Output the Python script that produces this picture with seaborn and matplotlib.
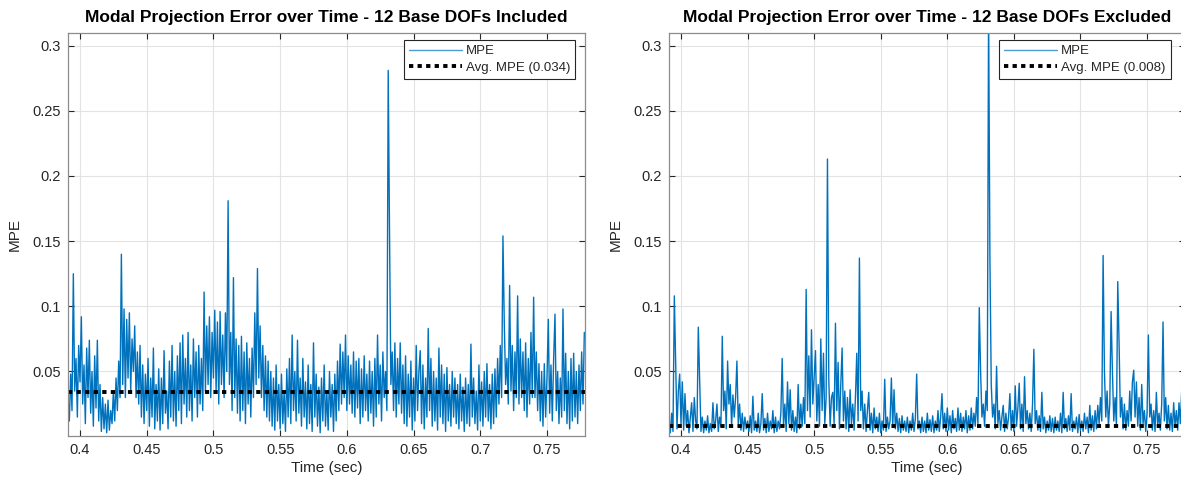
import numpy as np
import matplotlib
matplotlib.use("Agg")
import matplotlib.pyplot as plt
import seaborn as sns

# ---------------------------------------------------------------------------
# data (read off the reference, sampled every 1 ms from t = 0.391 s)
# ---------------------------------------------------------------------------
t_start = 0.391
dt = 0.001

mpe_included = [
    0.030, 0.012, 0.048, 0.020, 0.125, 0.035, 0.060, 0.015, 0.070, 0.042,
    0.092, 0.025, 0.055, 0.010, 0.068, 0.030, 0.074, 0.018, 0.050, 0.008,
    0.062, 0.022, 0.074, 0.012, 0.040, 0.004, 0.030, 0.006, 0.025, 0.003,
    0.028, 0.005, 0.020, 0.010, 0.035, 0.012, 0.045, 0.020, 0.058, 0.030,
    0.140, 0.040, 0.098, 0.030, 0.090, 0.045, 0.095, 0.035, 0.075, 0.050,
    0.085, 0.030, 0.065, 0.025, 0.070, 0.015, 0.055, 0.010, 0.048, 0.020,
    0.060, 0.008, 0.045, 0.015, 0.068, 0.006, 0.040, 0.012, 0.052, 0.005,
    0.045, 0.010, 0.066, 0.018, 0.035, 0.006, 0.058, 0.015, 0.070, 0.012,
    0.050, 0.008, 0.062, 0.020, 0.072, 0.010, 0.078, 0.025, 0.060, 0.015,
    0.080, 0.020, 0.055, 0.012, 0.075, 0.030, 0.065, 0.015, 0.070, 0.025,
    0.060, 0.020, 0.111, 0.035, 0.085, 0.040, 0.092, 0.030, 0.080, 0.045,
    0.097, 0.035, 0.088, 0.025, 0.096, 0.040, 0.078, 0.030, 0.095, 0.050,
    0.181, 0.040, 0.080, 0.020, 0.122, 0.030, 0.075, 0.018, 0.070, 0.012,
    0.077, 0.020, 0.065, 0.010, 0.072, 0.025, 0.060, 0.015, 0.068, 0.030,
    0.095, 0.040, 0.129, 0.045, 0.085, 0.030, 0.070, 0.020, 0.062, 0.015,
    0.058, 0.012, 0.050, 0.008, 0.045, 0.005, 0.055, 0.012, 0.040, 0.006,
    0.048, 0.010, 0.035, 0.004, 0.052, 0.015, 0.060, 0.010, 0.078, 0.020,
    0.050, 0.012, 0.074, 0.018, 0.045, 0.008, 0.060, 0.015, 0.042, 0.006,
    0.055, 0.010, 0.040, 0.004, 0.072, 0.015, 0.048, 0.008, 0.038, 0.003,
    0.045, 0.012, 0.055, 0.008, 0.035, 0.005, 0.050, 0.015, 0.040, 0.004,
    0.048, 0.012, 0.058, 0.020, 0.071, 0.025, 0.065, 0.030, 0.078, 0.020,
    0.062, 0.025, 0.055, 0.018, 0.065, 0.015, 0.058, 0.022, 0.060, 0.010,
    0.052, 0.015, 0.062, 0.020, 0.048, 0.012, 0.058, 0.018, 0.050, 0.008,
    0.060, 0.015, 0.078, 0.025, 0.055, 0.012, 0.065, 0.030, 0.050, 0.020,
    0.281, 0.155, 0.040, 0.065, 0.020, 0.072, 0.015, 0.060, 0.025, 0.072,
    0.018, 0.055, 0.010, 0.062, 0.008, 0.048, 0.015, 0.058, 0.005, 0.045,
    0.012, 0.070, 0.020, 0.050, 0.066, 0.010, 0.055, 0.006, 0.045, 0.015,
    0.083, 0.020, 0.060, 0.008, 0.050, 0.012, 0.045, 0.005, 0.068, 0.015,
    0.055, 0.010, 0.048, 0.004, 0.053, 0.012, 0.040, 0.008, 0.050, 0.015,
    0.045, 0.010, 0.040, 0.006, 0.048, 0.012, 0.038, 0.004, 0.045, 0.010,
    0.040, 0.008, 0.071, 0.015, 0.045, 0.010, 0.035, 0.005, 0.055, 0.012,
    0.042, 0.008, 0.050, 0.015, 0.056, 0.012, 0.040, 0.006, 0.048, 0.010,
    0.052, 0.015, 0.060, 0.025, 0.070, 0.030, 0.154, 0.087, 0.040, 0.060,
    0.025, 0.116, 0.035, 0.070, 0.020, 0.065, 0.030, 0.108, 0.025, 0.075,
    0.030, 0.065, 0.020, 0.072, 0.015, 0.060, 0.025, 0.080, 0.030, 0.107,
    0.030, 0.065, 0.020, 0.056, 0.012, 0.050, 0.008, 0.056, 0.015, 0.045,
    0.090, 0.018, 0.055, 0.012, 0.060, 0.094, 0.020, 0.050, 0.010, 0.045,
    0.015, 0.098, 0.020, 0.064, 0.010, 0.050, 0.006, 0.060, 0.012, 0.064,
    0.015, 0.050, 0.010, 0.055, 0.020, 0.065, 0.025, 0.080,
]

mpe_excluded = [
    0.012, 0.003, 0.018, 0.004, 0.108, 0.058, 0.006, 0.035, 0.048, 0.010,
    0.042, 0.005, 0.033, 0.008, 0.020, 0.003, 0.015, 0.026, 0.004, 0.030,
    0.012, 0.006, 0.084, 0.044, 0.004, 0.015, 0.003, 0.012, 0.005, 0.016,
    0.003, 0.010, 0.004, 0.026, 0.006, 0.012, 0.025, 0.004, 0.015, 0.008,
    0.077, 0.020, 0.035, 0.006, 0.058, 0.025, 0.040, 0.008, 0.032, 0.015,
    0.030, 0.058, 0.010, 0.025, 0.005, 0.018, 0.004, 0.015, 0.006, 0.012,
    0.004, 0.016, 0.003, 0.031, 0.005, 0.012, 0.004, 0.018, 0.003, 0.010,
    0.033, 0.005, 0.014, 0.003, 0.018, 0.004, 0.012, 0.006, 0.020, 0.003,
    0.015, 0.004, 0.012, 0.006, 0.018, 0.060, 0.008, 0.025, 0.004, 0.042,
    0.010, 0.036, 0.005, 0.020, 0.004, 0.015, 0.003, 0.040, 0.006, 0.025,
    0.008, 0.030, 0.010, 0.113, 0.020, 0.062, 0.015, 0.082, 0.025, 0.045,
    0.066, 0.012, 0.040, 0.008, 0.075, 0.020, 0.064, 0.010, 0.030, 0.213,
    0.044, 0.008, 0.030, 0.034, 0.010, 0.087, 0.020, 0.057, 0.006, 0.040,
    0.068, 0.012, 0.035, 0.006, 0.030, 0.004, 0.036, 0.010, 0.025, 0.005,
    0.030, 0.064, 0.012, 0.137, 0.020, 0.035, 0.006, 0.025, 0.004, 0.020,
    0.034, 0.005, 0.018, 0.003, 0.022, 0.006, 0.015, 0.004, 0.018, 0.003,
    0.012, 0.005, 0.044, 0.004, 0.015, 0.006, 0.012, 0.045, 0.008, 0.036,
    0.006, 0.018, 0.004, 0.014, 0.003, 0.016, 0.005, 0.012, 0.004, 0.015,
    0.003, 0.012, 0.005, 0.018, 0.004, 0.014, 0.048, 0.006, 0.012, 0.003,
    0.015, 0.004, 0.012, 0.003, 0.018, 0.005, 0.013, 0.004, 0.016, 0.003,
    0.012, 0.005, 0.020, 0.004, 0.015, 0.033, 0.006, 0.018, 0.004, 0.022,
    0.005, 0.016, 0.003, 0.020, 0.006, 0.014, 0.004, 0.022, 0.005, 0.018,
    0.004, 0.015, 0.006, 0.020, 0.003, 0.016, 0.005, 0.022, 0.006, 0.018,
    0.008, 0.030, 0.010, 0.099, 0.050, 0.015, 0.025, 0.008, 0.035, 0.020,
    0.330, 0.136, 0.040, 0.015, 0.025, 0.006, 0.054, 0.010, 0.020, 0.005,
    0.015, 0.024, 0.004, 0.018, 0.006, 0.015, 0.033, 0.005, 0.020, 0.004,
    0.039, 0.008, 0.022, 0.041, 0.006, 0.025, 0.004, 0.046, 0.010, 0.020,
    0.006, 0.018, 0.004, 0.025, 0.067, 0.010, 0.020, 0.005, 0.016, 0.004,
    0.034, 0.006, 0.015, 0.003, 0.012, 0.005, 0.016, 0.004, 0.014, 0.003,
    0.015, 0.005, 0.012, 0.004, 0.018, 0.003, 0.034, 0.006, 0.014, 0.004,
    0.016, 0.005, 0.033, 0.004, 0.012, 0.006, 0.015, 0.003, 0.017, 0.005,
    0.012, 0.004, 0.018, 0.006, 0.015, 0.003, 0.024, 0.005, 0.016, 0.004,
    0.020, 0.006, 0.024, 0.010, 0.030, 0.012, 0.139, 0.050, 0.015, 0.035,
    0.008, 0.025, 0.096, 0.050, 0.012, 0.030, 0.008, 0.119, 0.071, 0.015,
    0.030, 0.006, 0.025, 0.005, 0.020, 0.008, 0.035, 0.012, 0.042, 0.051,
    0.015, 0.042, 0.008, 0.030, 0.005, 0.040, 0.010, 0.020, 0.004, 0.018,
    0.078, 0.015, 0.025, 0.005, 0.020, 0.004, 0.034, 0.008, 0.018, 0.005,
    0.025, 0.088, 0.012, 0.030, 0.006, 0.024, 0.005, 0.018, 0.004, 0.026,
    0.008, 0.020, 0.005, 0.026, 0.010, 0.035, 0.015, 0.060,
]

avg_included = 0.034
avg_excluded = 0.008

titles = ["Modal Projection Error over Time - 12 Base DOFs Included",
          "Modal Projection Error over Time - 12 Base DOFs Excluded"]
x_ticks = [0.4, 0.45, 0.5, 0.55, 0.6, 0.65, 0.7, 0.75]
x_ticklabels = ["0.4", "0.45", "0.5", "0.55", "0.6", "0.65", "0.7", "0.75"]
y_ticks = [0.05, 0.1, 0.15, 0.2, 0.25, 0.3]
y_ticklabels = ["0.05", "0.1", "0.15", "0.2", "0.25", "0.3"]

# ---------------------------------------------------------------------------
# style
# ---------------------------------------------------------------------------
sns.set_theme(style="whitegrid")
plt.rcParams["font.family"] = ["Liberation Sans", "DejaVu Sans"]

BLUE = "#0072BD"
AX_COL = "#262626"
GRID_COL = "#e3e3e3"

fig = plt.figure(figsize=(11.81, 4.88), dpi=100, facecolor="white")
ax_l = fig.add_axes([68 / 1181, 52 / 488, 517 / 1181, 403 / 488])
ax_r = fig.add_axes([669 / 1181, 52 / 488, 516 / 1181, 403 / 488])

panels = [
    (ax_l, mpe_included, avg_included, titles[0], 0.981),
    (ax_r, mpe_excluded, avg_excluded, titles[1], 0.972),
]

for ax, series, avg, title, leg_x in panels:
    t = np.round(t_start + dt * np.arange(len(series)), 3)
    sns.lineplot(x=t, y=series, ax=ax, color=BLUE, lw=1.0,
                 label="MPE", estimator=None, sort=False)
    ax.axhline(avg, color="black", lw=2.8, ls=(0, (1.1, 1.1)),
               label=f"Avg. MPE ({avg:.3f})")

    ax.set_xlim(0.391, 0.7785)
    ax.set_ylim(0.0005, 0.3097)
    ax.set_xticks(x_ticks)
    ax.set_xticklabels(x_ticklabels)
    ax.set_yticks(y_ticks)
    ax.set_yticklabels(y_ticklabels)

    ax.set_facecolor("white")
    ax.grid(True, color=GRID_COL, lw=0.8)
    for s in ax.spines.values():
        s.set_visible(True)
        s.set_color("#8c8c8c")
        s.set_linewidth(0.9)
    ax.tick_params(direction="in", length=4, width=0.8, color=AX_COL,
                   labelsize=10.5, labelcolor=AX_COL, top=True, right=True,
                   bottom=True, left=True, pad=5)

    ax.set_title(title, fontsize=12.5, fontweight="bold", color="black", pad=8)
    ax.set_xlabel("Time (sec)", fontsize=11, color=AX_COL, labelpad=3)
    ax.set_ylabel("MPE", fontsize=11, color=AX_COL, labelpad=8)

    leg = ax.legend(loc="upper right", bbox_to_anchor=(leg_x, 0.983),
                    fontsize=9.5, frameon=True, fancybox=False, framealpha=1,
                    edgecolor=AX_COL, handlelength=4.0, borderpad=0.4,
                    labelspacing=0.3, handletextpad=0.3, borderaxespad=0)
    leg.get_frame().set_linewidth(0.8)
    leg.get_lines()[0].set_linewidth(1.0)
    leg.get_lines()[0].set_alpha(0.7)

fig.savefig("out.png", dpi=100, facecolor="white")
